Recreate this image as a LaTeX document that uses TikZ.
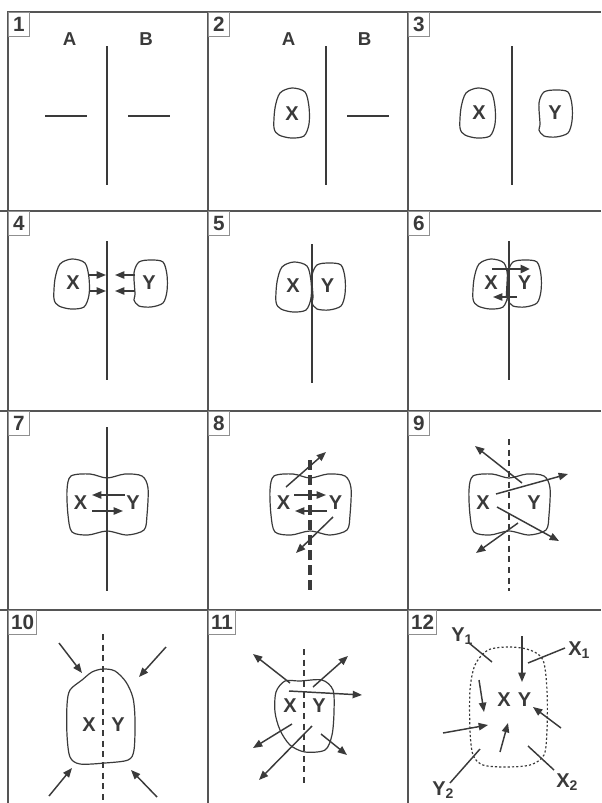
\documentclass[tikz,border=0pt]{standalone}
\usepackage{fontspec}
\setmainfont{Liberation Sans}
\usetikzlibrary{arrows.meta}
\definecolor{ink}{HTML}{3A3A3A}
\definecolor{framegrey}{HTML}{555555}
\definecolor{tabgrey}{HTML}{8F8F8F}
\tikzset{
  framerule/.style={draw=framegrey,line width=0.9pt},
  numtab/.style={draw=tabgrey,line width=0.7pt,anchor=north west,font=\bfseries\fontsize{15.5}{15.5}\selectfont,text=ink,
    minimum width=15.75pt,minimum height=18pt,inner xsep=2pt,inner ysep=0pt},
  membrane/.style={draw=ink,line width=1.1pt},
  cellwall/.style={draw=ink,line width=0.9pt},
  flux/.style={draw=ink,line width=1.1pt,-{Triangle[length=7pt,width=5.5pt]}},
  tie/.style={draw=ink,line width=1.1pt},
  mol/.style={font=\bfseries\fontsize{15}{15}\selectfont,text=ink,inner sep=0pt},
  side/.style={font=\bfseries\fontsize{14}{14}\selectfont,text=ink,inner sep=0pt},
}
\newcommand{\eggX}{plot[smooth cycle] coordinates {(0,-25) (13,-21) (17,-6) (17,11) (12,23) (-1,25) (-13,22) (-18,15) (-17,-5) (-12,-20)}}
\newcommand{\eggY}{plot[smooth cycle] coordinates {(0,-23) (12,-21) (16,-8) (16,8) (12,20) (0,24) (-12,23) (-17,17) (-16,11) (-17,-10) (-12,-21)}}
\newcommand{\twincell}{plot[smooth cycle] coordinates {(0,-26) (18,-30) (35,-28) (41,-16) (40,11) (37,26) (20,31) (0,27) (-19,31) (-35,28) (-39,11) (-40,-14) (-36,-28) (-17,-30)}}

\begin{document}
\begin{tikzpicture}[x=0.75pt,y=-0.75pt,
  thickflux/.style={draw=ink,line width=2.2pt,-{Triangle[length=7pt,width=6pt]}},
  gate/.style={draw=ink,line width=2.4pt,dash pattern=on 7.5pt off 3.75pt},
  gap/.style={draw=ink,line width=0.9pt,dash pattern=on 4.5pt off 3.5pt},
  pore/.style={draw=ink,line width=0.9pt,dash pattern=on 1.6pt off 1.6pt}]
  \useasboundingbox (0,0) rectangle (601,803);
  \draw[framerule] (8,803) -- (8,12) -- (601,12);
  \draw[framerule] (208,12) -- (208,803) (408,12) -- (408,803);
  \draw[framerule] (0,211) -- (601,211) (0,411) -- (601,411) (0,610) -- (601,610);
  \node[numtab] (t1) at (8,12) {1};
  \node[numtab] (t2) at (208,12) {2};
  \node[numtab] (t3) at (408,12) {3};
  \node[numtab] (t4) at (8,211) {4};
  \node[numtab] (t5) at (208,211) {5};
  \node[numtab] (t6) at (408,211) {6};
  \node[numtab] (t7) at (8,411) {7};
  \node[numtab] (t8) at (208,411) {8};
  \node[numtab] (t9) at (408,411) {9};
  \node[numtab] (t10) at (8,610) {10};
  \node[numtab] (t11) at (208,610) {11};
  \node[numtab] (t12) at (408,610) {12};

  \node[side] (a1) at (69.5,39.5) {A};
  \node[side] (b1) at (146,39.5) {B};
  \draw[membrane] (107,46) -- (107,185);
  \draw[membrane] (45,116) -- (87,116);
  \draw[membrane] (128,116) -- (170,116);

  \node[side] (a2) at (288.5,39.5) {A};
  \node[side] (b2) at (364.5,39.5) {B};
  \draw[membrane] (326,46) -- (326,185);
  \draw[cellwall,shift={(292,113)}] \eggX;
  \node[mol] (x2) at (292,113.5) {X};
  \draw[membrane] (347,116) -- (389,116);

  \draw[membrane] (512,46) -- (512,185);
  \draw[cellwall,shift={(478,113)}] \eggX;
  \draw[cellwall,shift={(556,113)}] \eggY;
  \node[mol] (x3) at (479,113) {X};
  \node[mol] (y3) at (555,113) {Y};

  \draw[membrane] (107,241) -- (107,380);
  \draw[cellwall,shift={(72,284)}] \eggX;
  \draw[cellwall,shift={(151,283)}] \eggY;
  \node[mol] (x4) at (73,283) {X};
  \node[mol] (y4) at (149,283) {Y};
  \draw[flux] (89,275) -- (106,275);
  \draw[flux] (89,291) -- (106,291);
  \draw[flux] (135,275) -- (115,275);
  \draw[flux] (135,291) -- (115,291);

  \draw[cellwall,shift={(294,287)}] \eggX;
  \draw[cellwall,shift={(329,286)}] \eggY;
  \draw[membrane] (312,244) -- (312,383);
  \node[mol] (x5) at (293,286) {X};
  \node[mol] (y5) at (327.5,286) {Y};

  \draw[cellwall,shift={(491,284)}] \eggX;
  \draw[cellwall,shift={(525,283)}] \eggY;
  \draw[membrane] (509,241) -- (509,380);
  \node[mol] (x6) at (491,283) {X};
  \node[mol] (y6) at (524.5,283) {Y};
  \draw[thickflux] (492,269) -- (530,269);
  \draw[draw=ink,line width=2pt] (508.5,269) -- (507,297);
  \draw[flux] (517,297) -- (493,297);

  \draw[cellwall,shift={(107,504)}] \twincell;
  \draw[membrane] (107,427) -- (107,591);
  \node[mol] (x7) at (80.5,503) {X};
  \node[mol] (y7) at (133,503) {Y};
  \draw[flux] (125,495) -- (92,495);
  \draw[flux] (92,511) -- (123,511);

  \draw[cellwall,shift={(310,504)}] \twincell;
  \draw[gate] (310,460) -- (310,591);
  \node[mol] (x8) at (283.5,503) {X};
  \node[mol] (y8) at (335.5,503) {Y};
  \draw[flux] (294,495) -- (326,495);
  \draw[flux] (327,511) -- (295,511);
  \draw[flux] (286,487) -- (326,452);
  \draw[flux] (333,517) -- (296,553);

  \draw[cellwall,shift={(509,504)}] \twincell;
  \draw[gap] (509,439) -- (509,591);
  \node[mol] (x9) at (483,503) {X};
  \node[mol] (y9) at (534,503) {Y};
  \draw[flux] (522,483) -- (475,446);
  \draw[flux] (496,494) -- (568,474);
  \draw[flux] (497,507) -- (559,541);
  \draw[flux] (518,523) -- (476,553);

  \draw[cellwall] plot[smooth cycle] coordinates {(103,669) (115,671) (126,682) (133,698) (135,720) (134,750) (128,760) (105,763) (80,764) (70,757) (67,735) (67,705) (70,690) (82,680) (92,672)};
  \draw[gap] (103,634) -- (103,803);
  \node[mol] (x10) at (89,724.5) {X};
  \node[mol] (y10) at (118,724.5) {Y};
  \draw[flux] (59,643) -- (82,673);
  \draw[flux] (166,647) -- (139,677);
  \draw[flux] (49,796) -- (72,768);
  \draw[flux] (157,797) -- (131,770);

  \draw[cellwall] plot[smooth cycle] coordinates {(300,681) (322,680) (333,690) (334,712) (332,735) (325,750) (305,752) (290,745) (280,730) (275,712) (276,692) (285,681)};
  \draw[gap] (304,649) -- (304,783);
  \node[mol] (x11) at (290,706) {X};
  \node[mol] (y11) at (319,706) {Y};
  \draw[flux] (290,683) -- (253,654);
  \draw[flux] (313,687) -- (348,656);
  \draw[flux] (289,691) -- (362,695);
  \draw[flux] (292,724) -- (253,748);
  \draw[flux] (312,726) -- (259,780);
  \draw[flux] (321,734) -- (347,755);

  \draw[pore] plot[smooth cycle] coordinates {(488,650) (510,647) (530,650) (543,660) (547,690) (547,730) (544,755) (530,765) (505,767) (483,765) (473,755) (470,730) (470,690) (475,665)};
  \node[mol] (x12) at (504,699.5) {X};
  \node[mol] (y12) at (524.5,699.5) {Y};
  \node[mol,anchor=base west] (yA) at (451,641) {Y\textsubscript{1}};
  \node[mol,anchor=base west] (xA) at (568,655) {X\textsubscript{1}};
  \node[mol,anchor=base west] (yB) at (432,795) {Y\textsubscript{2}};
  \node[mol,anchor=base west] (xB) at (556,787) {X\textsubscript{2}};
  \draw[tie] (469,643) -- (492,662);
  \draw[tie] (565,648) -- (528,663);
  \draw[tie] (450,783) -- (480,749);
  \draw[tie] (554,770) -- (528,746);
  \draw[flux] (522,636) -- (522,682);
  \draw[flux] (479,680) -- (484,712);
  \draw[flux] (443,733) -- (488,725);
  \draw[flux] (500,752) -- (508,723);
  \draw[flux] (561,728) -- (533,707);
\end{tikzpicture}
\end{document}
